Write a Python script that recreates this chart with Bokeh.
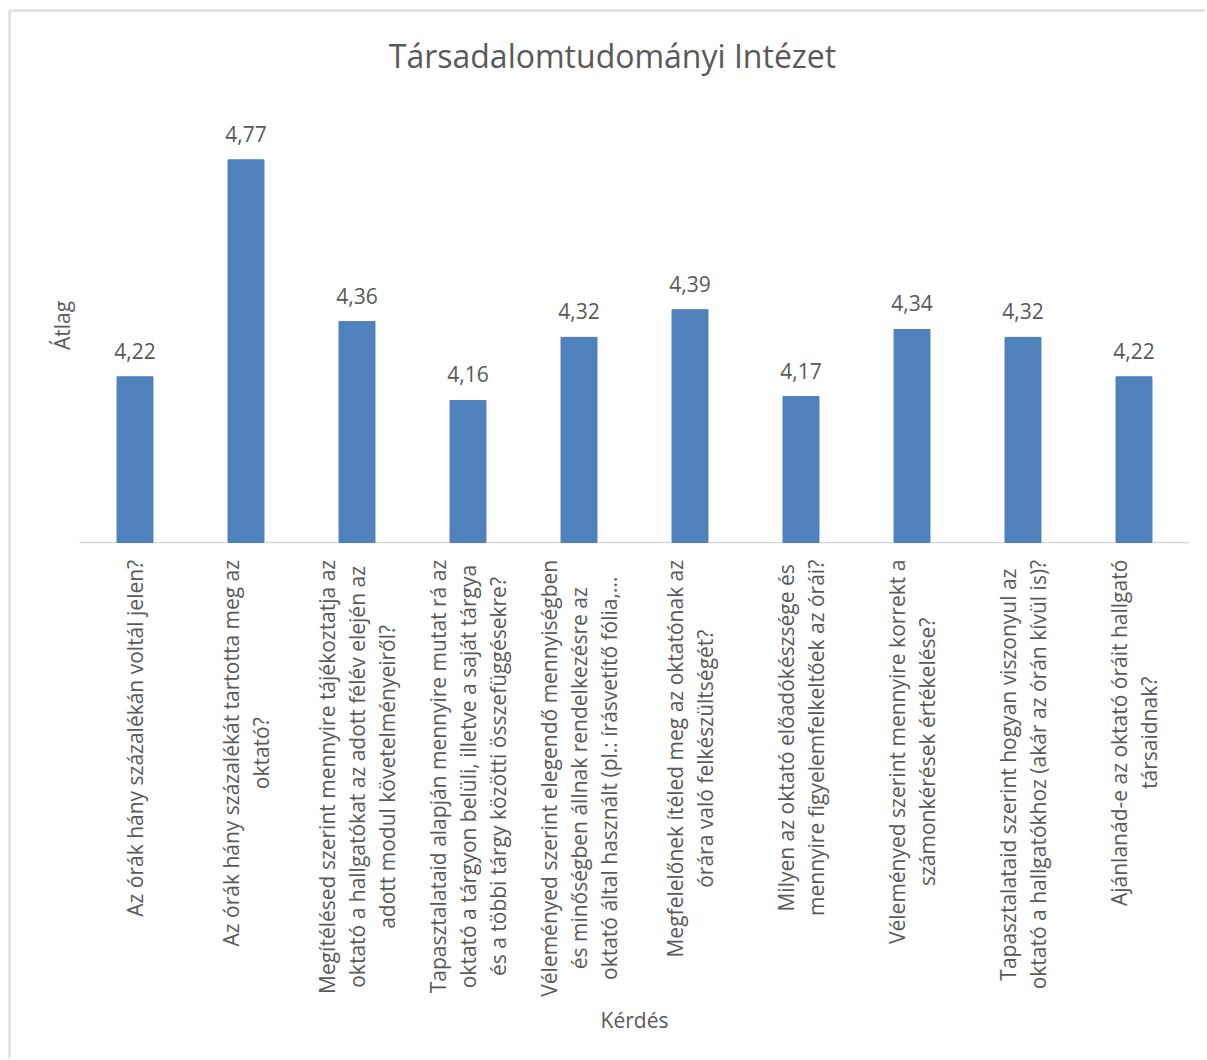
import math
import numpy as np
from bokeh.plotting import figure
from bokeh.models import ColumnDataSource, LabelSet, Label, Range1d
from bokeh.core.properties import value
from bokeh.embed import file_html
from bokeh.resources import INLINE

# ---------------- data ----------------
title_text = "Társadalomtudományi Intézet"
y_axis_title = "Átlag"
x_axis_title = "Kérdés"

categories = [
    "Az órák hány százalékán voltál jelen?",
    "Az órák hány százalékát tartotta meg az\noktató?",
    "Megítélésed szerint mennyire tájékoztatja az\noktató a hallgatókat az adott félév elején az\nadott modul követelményeiről?",
    "Tapasztalataid alapján mennyire mutat rá az\noktató a tárgyon belüli, illetve a saját tárgya\nés a többi tárgy közötti összefüggésekre?",
    "Véleményed szerint elegendő mennyiségben\nés minőségben állnak rendelkezésre az\noktató által használt (pl.: írásvetítő fólia,...",
    "Megfelelőnek ítéled meg az oktatónak az\nórára való felkészültségét?",
    "Milyen az oktató előadókészsége és\nmennyire figyelemfelkeltőek az órái?",
    "Véleményed szerint mennyire korrekt a\nszámonkérések értékelése?",
    "Tapasztalataid szerint hogyan viszonyul az\noktató a hallgatókhoz (akár az órán kívül is)?",
    "Ajánlanád-e az oktató óráit hallgató\ntársaidnak?",
]
values = [4.22, 4.77, 4.36, 4.16, 4.32, 4.39, 4.17, 4.34, 4.32, 4.22]
value_labels = [f"{v:.2f}".replace(".", ",") for v in values]

y_min = 3.8  # value axis minimum (bars start here)

# ---------------- layout / style (pixel positions on the page) ----------------
W, H = 1205, 1058
PLOT_L, PLOT_R = 79, 1189      # category axis extent
PLOT_B = 542                   # baseline (value y_min)
PPU = 394.5                    # pixels per value unit
FONT = "Open Sans"
TXT = "#595959"
BAR = "#4F81BD"
GRID = "#d9d9d9"
LBL_FS = 21
LINE_GAP = 30
TOP_GAP = 17

n_cat = len(categories)
cat_px = (PLOT_R - PLOT_L) / n_cat

def xdata(px):
    return (px - PLOT_L) / cat_px

def ydata(py):
    return y_min + (PLOT_B - py) / PPU

# approximate Open Sans advance widths (units per em 2048) for centring lines
ADV = {" ": 532, "?": 879, ",": 502, ".": 545, ":": 545, "(": 606, ")": 606, "-": 659,
       "A": 1296, "M": 1849, "T": 1133, "V": 1219, "I": 571,
       "a": 1139, "b": 1255, "c": 975, "d": 1255, "e": 1149, "f": 694, "g": 1122,
       "h": 1257, "i": 518, "j": 518, "k": 1075, "l": 518, "m": 1905, "n": 1257,
       "o": 1237, "p": 1255, "q": 1255, "r": 836, "s": 977, "t": 723, "u": 1257,
       "v": 1026, "w": 1593, "x": 1073, "y": 1028, "z": 977}
ACC = {"á": "a", "é": "e", "í": "i", "ó": "o", "ö": "o", "ő": "o", "ú": "u", "ü": "u", "ű": "u"}

def text_w(s, fs):
    return sum(ADV.get(ACC.get(c, c), 1100) for c in s) / 2048 * fs

p = figure(width=W, height=H, output_backend="svg", toolbar_location=None,
           x_range=Range1d(xdata(0), xdata(W)), y_range=Range1d(ydata(H), ydata(0)),
           x_axis_location=None, y_axis_location=None, tools="",
           min_border=0, min_border_left=0, min_border_right=0,
           min_border_top=0, min_border_bottom=0)
p.title = None
p.outline_line_color = None
p.grid.visible = False
p.background_fill_color = "white"
p.border_fill_color = "white"

# chart-area border (left and top edges visible in the page)
p.segment(x0=[xdata(9), xdata(9)], y0=[ydata(10), ydata(10)],
          x1=[xdata(9), xdata(W + 20)], y1=[ydata(H + 20), ydata(10)],
          line_color=GRID, line_width=2)

# baseline of the category axis
p.segment(x0=[0], y0=[y_min], x1=[n_cat], y1=[y_min], line_color=GRID, line_width=1.5)

xs = np.arange(n_cat) + 0.5
src = ColumnDataSource(dict(x=xs, top=values, lab=value_labels))
p.vbar(x="x", top="top", bottom=y_min, width=0.324, source=src,
       fill_color=BAR, line_color=BAR)

p.add_layout(LabelSet(x="x", y="top", text="lab", source=src, y_offset=18,
                      text_align="center", text_baseline="alphabetic",
                      text_font=value(FONT), text_font_size=f"{LBL_FS}px", text_color=TXT))

# category labels, each line centred inside its rotated block
lx, ly, lt, lxo, lyo = [], [], [], [], []
for i, cat in enumerate(categories):
    lines = cat.split("\n")
    n = len(lines)
    block = max(text_w(l, LBL_FS) for l in lines)
    for j, line in enumerate(lines):
        lx.append(xs[i]); ly.append(y_min); lt.append(line)
        lxo.append((j - (n - 1) / 2) * LINE_GAP)
        lyo.append(-(TOP_GAP + block / 2))
csrc = ColumnDataSource(dict(x=lx, y=ly, t=lt, xo=lxo, yo=lyo))
p.add_layout(LabelSet(x="x", y="y", text="t", source=csrc, x_offset="xo", y_offset="yo",
                      angle=math.pi / 2, text_align="center", text_baseline="middle",
                      text_font=value(FONT), text_font_size=f"{LBL_FS}px", text_color=TXT))

p.add_layout(Label(x=xdata(612), y=ydata(55), text=title_text, text_align="center",
                   text_baseline="middle", text_font=FONT, text_font_size="32px",
                   text_color=TXT))
p.add_layout(Label(x=xdata(61), y=ydata(325), text=y_axis_title, angle=math.pi / 2,
                   text_align="center", text_baseline="middle", text_font=FONT,
                   text_font_size=f"{LBL_FS}px", text_color=TXT))
p.add_layout(Label(x=xdata(634), y=ydata(1019), text=x_axis_title, text_align="center",
                   text_baseline="middle", text_font=FONT,
                   text_font_size=f"{LBL_FS}px", text_color=TXT))

open("out.html", "w").write(file_html(p, INLINE))
